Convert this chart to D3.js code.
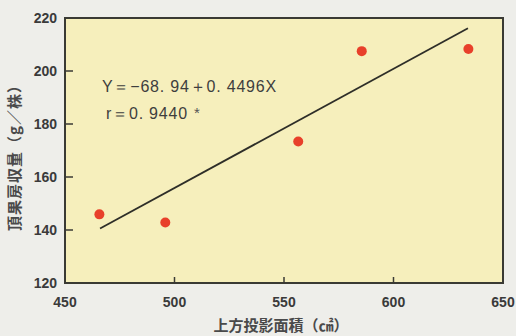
<!DOCTYPE html>
<html>
<head>
<meta charset="utf-8">
<script src="https://cdn.jsdelivr.net/npm/d3@7"></script>
<style>
  body { margin: 0; background: #eeeeea; }
  svg { display: block; }
</style>
</head>
<body>
<div id="chart"></div>
<script>
// data
const areaX = [465.7, 495.8, 556.5, 585.5, 634.2];
const yieldY = [145.9, 142.8, 173.4, 207.5, 208.3];
const fitA = -68.94, fitB = 0.4496;
const fitRange = [466, 634];
const xTicks = [450, 500, 550, 600, 650];
const yTicks = [120, 140, 160, 180, 200, 220];
const eqLines = ["Y\uFF1D\u221268. 94\uFF0B0. 4496X", "r\uFF1D0. 9440"];
const eqMark = "*";

const width = 516, height = 336;
const svg = d3.select("#chart").append("svg")
    .attr("width", width).attr("height", height);

const plotL = 65, plotR = 503, plotT = 18, plotB = 283;
const x = d3.scaleLinear().domain([450, 650]).range([plotL, plotR]);
const y = d3.scaleLinear().domain([120, 220]).range([plotB, plotT]);

const tickFont = "'Liberation Sans Narrow', 'Liberation Sans', sans-serif";
const cjkFont = "'Noto Sans CJK JP', sans-serif";

// plot area
svg.append("rect")
    .attr("x", plotL).attr("y", plotT)
    .attr("width", plotR - plotL).attr("height", plotB - plotT)
    .attr("fill", "#f6efbc")
    .attr("stroke", "#3a3a34").attr("stroke-width", 2);

// inner ticks
svg.append("g").selectAll("line")
    .data(yTicks.slice(1, -1))
    .join("line")
    .attr("x1", plotL).attr("x2", plotL + 8)
    .attr("y1", d => y(d)).attr("y2", d => y(d))
    .attr("stroke", "#3a3a34").attr("stroke-width", 1.5);

svg.append("g").selectAll("line")
    .data(xTicks.slice(1, -1))
    .join("line")
    .attr("x1", d => x(d)).attr("x2", d => x(d))
    .attr("y1", plotB).attr("y2", plotB - 6)
    .attr("stroke", "#3a3a34").attr("stroke-width", 1.5);

// tick labels
svg.append("g").selectAll("text")
    .data(yTicks)
    .join("text")
    .attr("x", plotL - 8).attr("y", d => y(d))
    .attr("dy", "0.36em")
    .attr("text-anchor", "end")
    .style("font", `bold 14px ${tickFont}`)
    .attr("fill", "#3a3a3a")
    .text(d => d);

svg.append("g").selectAll("text")
    .data(xTicks)
    .join("text")
    .attr("x", d => x(d)).attr("y", 302)
    .attr("dy", "0.36em")
    .attr("text-anchor", "middle")
    .style("font", `bold 14px ${tickFont}`)
    .attr("fill", "#3a3a3a")
    .text(d => d);

// axis titles
svg.append("text")
    .attr("x", 281).attr("y", 326)
    .attr("dy", "0.36em")
    .attr("text-anchor", "middle")
    .style("font", `bold 15px ${cjkFont}`)
    .attr("fill", "#4a4a4a")
    .text("上方投影面積（㎠）");

svg.append("text")
    .attr("transform", "translate(15,154) rotate(-90)")
    .attr("dy", "0.36em")
    .attr("text-anchor", "middle")
    .style("font", `bold 15px ${cjkFont}`)
    .attr("letter-spacing", "1px")
    .attr("fill", "#4a4a4a")
    .text("頂果房収量（g／株）");

// regression line
svg.append("line")
    .attr("x1", x(fitRange[0])).attr("y1", y(fitA + fitB * fitRange[0]))
    .attr("x2", x(fitRange[1])).attr("y2", y(fitA + fitB * fitRange[1]))
    .attr("stroke", "#2e2e28").attr("stroke-width", 1.8);

// points
svg.append("g").selectAll("circle")
    .data(areaX.map((d, i) => [d, yieldY[i]]))
    .join("circle")
    .attr("cx", d => x(d[0])).attr("cy", d => y(d[1]))
    .attr("r", 5)
    .attr("fill", "#e8402a");

// equation
svg.append("g").selectAll("text")
    .data(eqLines)
    .join("text")
    .attr("x", (d, i) => i ? 106 : 102)
    .attr("y", (d, i) => 86 + i * 27)
    .attr("dy", "0.36em")
    .style("font", `16px ${tickFont}`)
    .attr("letter-spacing", "0.8px")
    .attr("fill", "#3e3e3e")
    .text(d => d);

svg.append("text")
    .attr("x", 197).attr("y", 113)
    .attr("dy", "0.36em")
    .attr("text-anchor", "middle")
    .style("font", `15px ${tickFont}`)
    .attr("fill", "#555")
    .text(eqMark);
</script>
</body>
</html>
